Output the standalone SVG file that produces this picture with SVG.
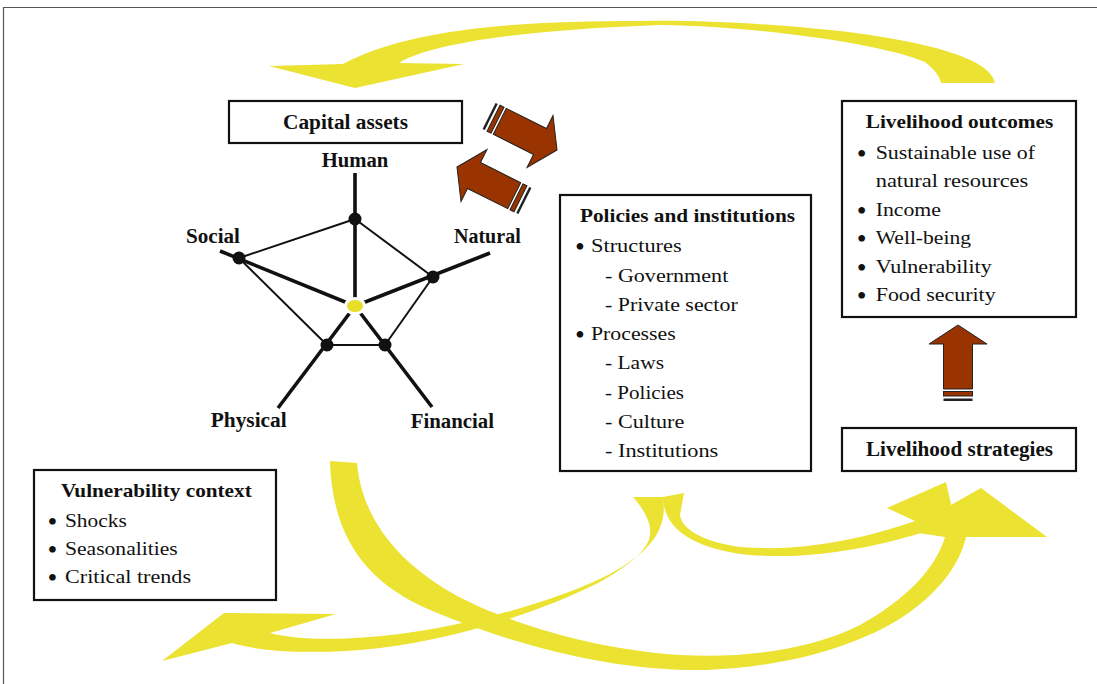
<svg xmlns="http://www.w3.org/2000/svg" width="1097" height="684" viewBox="0 0 1097 684">
<style>
.box{fill:#fff;stroke:#111;stroke-width:2.2}
.t{font-family:"Liberation Serif","Times New Roman",serif;font-size:19px;fill:#111}
.b{font-weight:bold;font-size:20px}
.h{font-weight:bold;font-size:19px}
.m{text-anchor:middle}
.bu{font-size:28px}
.yl{fill:#ebe232}
.br{fill:#993300;stroke:#222;stroke-width:1}
.dk{fill:#222}
.thin{stroke:#111;stroke-width:2;fill:none}
.thick{stroke:#111;stroke-width:3.6;fill:none}
.dot{fill:#111}
</style>
<defs>
<g id="brarrow">
<path class="br" d="M0,0 L29,19 L14.5,19 L14.5,64 L-14.5,64 L-14.5,19 L-29,19 Z"/>
<rect class="br" x="-14.5" y="66.5" width="29" height="4.5"/>
<rect class="dk" x="-14.5" y="73.5" width="29" height="2.5"/>
</g>
</defs>
<rect width="1097" height="684" fill="#fff"/>
<g id="frame" stroke="#555" stroke-width="1.2">
<line x1="3" y1="7.5" x2="1097" y2="7.5"/>
<line x1="3.5" y1="7" x2="3.5" y2="684"/>
</g>
<g id="connectors">
<path id="arrow-top" class="yl" d="M995,83 C992,65 955,45 840,31 C760,23 700,20 640,21 C520,21 410,28 343,64 L269,66 L355,88 L464,64 L399,63 C430,44 520,30 660,25 C780,27 895,48 925,62 C935,70 940,77 941,83 Z"/>
<path id="arrow-to-strategies-big" class="yl" d="M330,461 C332,530 360,580 430,610 C520,648 620,672 707,670 C800,666 880,640 925,600 C950,578 962,555 966,537 L1047,537 L981,488 L905,531 L945,537 C935,570 905,600 860,625 C800,655 720,660 656,653 C580,645 500,620 452,593 C400,563 362,520 357,463 Z"/>
<path id="arrow-to-strategies-small" class="yl" d="M663,497 C664,528 690,546 740,554 C800,561 870,550 930,530 L960,544 L946,482 L887,508 L915,521 C860,540 800,552 740,547 C705,542 682,530 680,515 L684,493 Z"/>
<path id="arrow-to-vulnerability" class="yl" d="M663,497 C668,530 650,552 610,574 C560,600 470,625 400,634 C350,640 300,641 270,633 L336,614 L224,613 L162,661 L232,643 C260,652 320,655 380,648 C460,638 540,612 600,582 C630,565 648,550 650,535 C652,520 640,505 633,497 Z"/>
<use href="#brarrow" transform="translate(557,150) rotate(116.6)"/>
<use href="#brarrow" transform="translate(457,167) rotate(-63.4)"/>
<use href="#brarrow" transform="translate(958,325)"/>
</g>
<g id="capital-assets">
<rect class="box" x="229" y="101" width="233" height="42"/>
<text class="t b m" x="345.5" y="129" textLength="125" lengthAdjust="spacingAndGlyphs">Capital assets</text>
</g>
<g id="asset-pentagon">
<line class="thin" x1="355" y1="219" x2="239" y2="258"/>
<line class="thin" x1="355" y1="219" x2="433" y2="277"/>
<line class="thin" x1="239" y1="258" x2="327" y2="345"/>
<line class="thin" x1="433" y1="277" x2="385" y2="345"/>
<line class="thin" x1="327" y1="345" x2="385" y2="345"/>
<line class="thick" x1="355" y1="173" x2="355" y2="306"/>
<line class="thick" x1="220" y1="251" x2="355" y2="306"/>
<line class="thick" x1="490" y1="253" x2="355" y2="306"/>
<line class="thick" x1="278" y1="408" x2="355" y2="306"/>
<line class="thick" x1="432" y1="407" x2="355" y2="306"/>
<circle class="dot" cx="355" cy="219" r="6.5"/>
<circle class="dot" cx="239" cy="258" r="6.5"/>
<circle class="dot" cx="433" cy="277" r="6.5"/>
<circle class="dot" cx="327" cy="345" r="6.5"/>
<circle class="dot" cx="385" cy="345" r="6.5"/>
<ellipse cx="355" cy="306" rx="9.5" ry="7.5" fill="#e8df2a" stroke="#fff" stroke-width="3"/>
<text class="t b" x="321.7" y="166.7" textLength="66.6" lengthAdjust="spacingAndGlyphs">Human</text>
<text class="t b" x="186" y="243.3" textLength="54" lengthAdjust="spacingAndGlyphs">Social</text>
<text class="t b" x="454" y="243.3" textLength="66.7" lengthAdjust="spacingAndGlyphs">Natural</text>
<text class="t b" x="210.7" y="426.7" textLength="76" lengthAdjust="spacingAndGlyphs">Physical</text>
<text class="t b" x="410.7" y="428.3" textLength="83.3" lengthAdjust="spacingAndGlyphs">Financial</text>
</g>
<g id="policies-institutions">
<rect class="box" x="560" y="195" width="251" height="276"/>
<text class="t h" x="580" y="222" textLength="215" lengthAdjust="spacingAndGlyphs">Policies and institutions</text>
<text class="t m bu" x="580" y="256">•</text>
<text class="t" x="591" y="252" textLength="90.7" lengthAdjust="spacingAndGlyphs">Structures</text>
<text class="t" x="605" y="282" textLength="123.3" lengthAdjust="spacingAndGlyphs">- Government</text>
<text class="t" x="605" y="311" textLength="132.7" lengthAdjust="spacingAndGlyphs">- Private sector</text>
<text class="t m bu" x="580" y="344">•</text>
<text class="t" x="591" y="340" textLength="84.7" lengthAdjust="spacingAndGlyphs">Processes</text>
<text class="t" x="605" y="369" textLength="59" lengthAdjust="spacingAndGlyphs">- Laws</text>
<text class="t" x="605" y="399" textLength="79" lengthAdjust="spacingAndGlyphs">- Policies</text>
<text class="t" x="605" y="428" textLength="79.3" lengthAdjust="spacingAndGlyphs">- Culture</text>
<text class="t" x="605" y="457" textLength="113.3" lengthAdjust="spacingAndGlyphs">- Institutions</text>
</g>
<g id="livelihood-outcomes">
<rect class="box" x="842" y="101" width="234" height="216"/>
<text class="t h" x="865.7" y="128" textLength="187.6" lengthAdjust="spacingAndGlyphs">Livelihood outcomes</text>
<text class="t m bu" x="861.7" y="163">•</text>
<text class="t" x="875.7" y="159" textLength="159.3" lengthAdjust="spacingAndGlyphs">Sustainable use of</text>
<text class="t" x="875.7" y="187" textLength="152.6" lengthAdjust="spacingAndGlyphs">natural resources</text>
<text class="t m bu" x="861.7" y="219.5">•</text>
<text class="t" x="875.7" y="215.5" textLength="65.3" lengthAdjust="spacingAndGlyphs">Income</text>
<text class="t m bu" x="861.7" y="248">•</text>
<text class="t" x="875.7" y="244" textLength="95.3" lengthAdjust="spacingAndGlyphs">Well-being</text>
<text class="t m bu" x="861.7" y="276.5">•</text>
<text class="t" x="875.7" y="272.5" textLength="116" lengthAdjust="spacingAndGlyphs">Vulnerability</text>
<text class="t m bu" x="861.7" y="305">•</text>
<text class="t" x="875.7" y="301" textLength="120" lengthAdjust="spacingAndGlyphs">Food security</text>
</g>
<g id="livelihood-strategies">
<rect class="box" x="842" y="428" width="234" height="43"/>
<text class="t b m" x="959.5" y="456" textLength="187" lengthAdjust="spacingAndGlyphs">Livelihood strategies</text>
</g>
<g id="vulnerability-context">
<rect class="box" x="34" y="470" width="242" height="130"/>
<text class="t h" x="61" y="497" textLength="190.7" lengthAdjust="spacingAndGlyphs">Vulnerability context</text>
<text class="t m bu" x="52.3" y="530.7">•</text>
<text class="t" x="65" y="526.7" textLength="61.7" lengthAdjust="spacingAndGlyphs">Shocks</text>
<text class="t m bu" x="52.3" y="559">•</text>
<text class="t" x="65" y="555" textLength="112.7" lengthAdjust="spacingAndGlyphs">Seasonalities</text>
<text class="t m bu" x="52.3" y="587.3">•</text>
<text class="t" x="65" y="583.3" textLength="126" lengthAdjust="spacingAndGlyphs">Critical trends</text>
</g>
</svg>
